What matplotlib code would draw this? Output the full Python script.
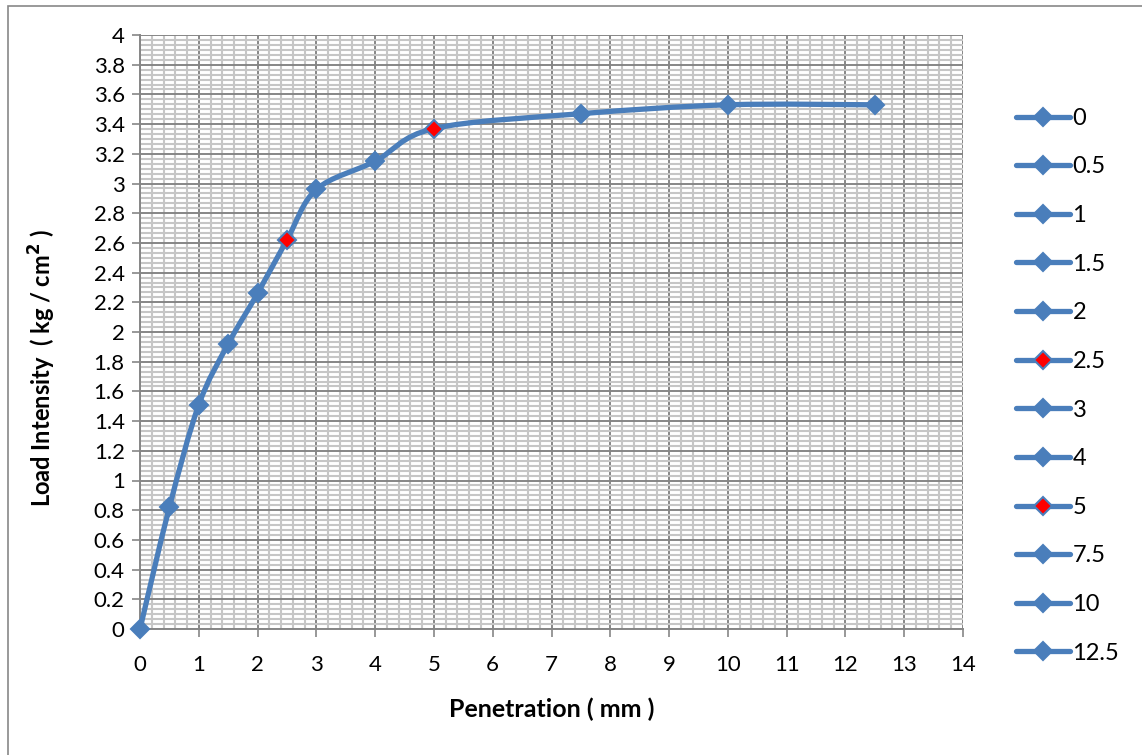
import numpy as np
import matplotlib.pyplot as plt
from matplotlib.path import Path
from matplotlib.patches import PathPatch, Rectangle
from matplotlib.lines import Line2D
from matplotlib.ticker import MultipleLocator, AutoMinorLocator, FormatStrFormatter

plt.rcParams['font.family'] = ['Lato', 'DejaVu Sans']

# Data
penetration = [0, 0.5, 1, 1.5, 2, 2.5, 3, 4, 5, 7.5, 10, 12.5]
load = [0, 0.82, 1.51, 1.92, 2.26, 2.62, 2.96, 3.15, 3.37, 3.47, 3.53, 3.53]
point_labels = ['0', '0.5', '1', '1.5', '2', '2.5', '3', '4', '5', '7.5', '10', '12.5']
highlighted = ['2.5', '5']

blue = '#4a7ebb'
grid_major = '#868686'
grid_minor = '#c6c6c6'


def smooth_path(xs, ys):
    """Excel style smoothed line: cubic bezier with 1/6 tangents"""
    pts = np.column_stack([xs, ys]).astype(float)
    n = len(pts)
    verts = [pts[0]]
    codes = [Path.MOVETO]
    for i in range(n - 1):
        p0 = pts[i - 1] if i > 0 else pts[i]
        p1 = pts[i]
        p2 = pts[i + 1]
        p3 = pts[i + 2] if i + 2 < n else pts[i + 1]
        c1 = p1 + (p2 - p0) / 6.0
        c2 = p2 - (p3 - p1) / 6.0
        verts += [c1, c2, p2]
        codes += [Path.CURVE4] * 3
    return Path(verts, codes)


fig = plt.figure(figsize=(11.42, 7.55), dpi=100)
ax = fig.add_axes([140 / 1142, 1 - 629 / 755, (963 - 140) / 1142, (629 - 35) / 755])

# outer chart border
fig.patches.append(Rectangle((8 / 1142, -0.05), 1.2, 1 - 6 / 755 + 0.05,
                             transform=fig.transFigure, fill=False,
                             edgecolor='#878787', linewidth=1.2))

ax.set_xlim(0, 14)
ax.set_ylim(0, 4)
ax.xaxis.set_major_locator(MultipleLocator(1))
ax.yaxis.set_major_locator(MultipleLocator(0.2))
ax.xaxis.set_minor_locator(AutoMinorLocator(5))
ax.yaxis.set_minor_locator(AutoMinorLocator(6))
ax.yaxis.set_major_formatter(FormatStrFormatter('%g'))

ax.grid(which='minor', color=grid_minor, linewidth=1.5, zorder=0)
ax.grid(which='major', color=grid_major, linewidth=1.4, zorder=0.5)
ax.set_axisbelow(True)

for side in ['top', 'right']:
    ax.spines[side].set_visible(False)
for side in ['left', 'bottom']:
    ax.spines[side].set_color(grid_major)
    ax.spines[side].set_linewidth(1.4)

ax.tick_params(which='major', length=6, width=1.2, color=grid_major,
               labelsize=16, pad=5)
ax.tick_params(which='minor', length=0)
ax.tick_params(axis='x', pad=13)

# smoothed line
patch = PathPatch(smooth_path(penetration, load), facecolor='none',
                  edgecolor=blue, linewidth=3.8, capstyle='round', zorder=3)
ax.add_patch(patch)

# markers
for x, y, lab in zip(penetration, load, point_labels):
    face = 'red' if lab in highlighted else blue
    ax.plot([x], [y], marker='D', markersize=9, markerfacecolor=face,
            markeredgecolor=blue, markeredgewidth=1.5, linestyle='none',
            zorder=4, clip_on=False)

ax.set_ylabel('Load Intensity  ( kg / cm$^\\mathbf{2}$ )', fontsize=17,
              fontweight='bold')
ax.yaxis.set_label_coords(-0.1, 0.439)
ax.set_xlabel('Penetration ( mm )', fontsize=18, fontweight='bold')
ax.xaxis.set_label_coords(0.5, -0.116)

# legend: one entry per point
handles = []
for lab in point_labels:
    face = 'red' if lab in highlighted else blue
    handles.append(Line2D([], [], color=blue, linewidth=3.8,
                          solid_capstyle='round', marker='D', markersize=9,
                          markerfacecolor=face, markeredgecolor=blue,
                          markeredgewidth=1.5))
fig.legend(handles, point_labels, loc='upper left',
           bbox_to_anchor=(1004 / 1142, 1 - 96 / 755), frameon=False,
           fontsize=17, handlelength=2.3, handletextpad=0.1,
           labelspacing=1.17, borderpad=0)

fig.savefig('out.png', dpi=100)
